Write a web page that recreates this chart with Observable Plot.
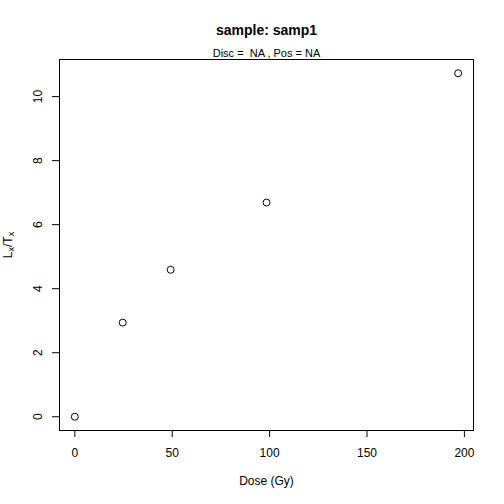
<!DOCTYPE html>
<html><head><meta charset="utf-8">
<script src="https://cdn.jsdelivr.net/npm/d3@7"></script>
<script src="https://cdn.jsdelivr.net/npm/@observablehq/plot@0.6"></script>
<style>body{margin:0;background:#fff}</style>
</head><body><div id="chart"></div>
<script>
const dose = [0, 24.6, 49.2, 98.4, 196.8];
const lxtx = [0.0, 2.94, 4.59, 6.69, 10.73];
const xTicks = [0, 50, 100, 150, 200];
const yTicks = [0, 2, 4, 6, 8, 10];
const title = "sample: samp1";
const subtitle = "Disc =  NA , Pos = NA";
const xLabel = "Dose (Gy)";
const yLabel = "Lx/Tx";

const data = dose.map((d, i) => ({dose: d, lxtx: lxtx[i]}));
const ext = (a) => { const lo = d3.min(a), hi = d3.max(a), p = (hi - lo) * 0.04; return [lo - p, hi + p]; };
const font = "Liberation Sans, Arial, Helvetica, sans-serif";

const chart = Plot.plot({
  width: 504, height: 504,
  marginLeft: 59, marginRight: 31, marginTop: 59, marginBottom: 74,
  style: {fontFamily: font, fontSize: "12px", background: "#fff", color: "#000"},
  x: {domain: ext(dose), axis: null},
  y: {domain: ext(lxtx), axis: null},
  marks: [
    Plot.frame({stroke: "#000", strokeWidth: 1}),
    Plot.axisX(xTicks, {tickSize: 7, tickFormat: () => "", label: null, stroke: "#000"}),
    Plot.axisY(yTicks, {tickSize: 7, tickFormat: () => "", label: null, stroke: "#000"}),
    Plot.text(xTicks, {x: d => d, frameAnchor: "bottom", lineAnchor: "middle", dy: 23, text: d => String(d), fontSize: 12, fill: "#000"}),
    Plot.text(yTicks, {y: d => d, frameAnchor: "left", textAnchor: "middle", lineAnchor: "middle", dx: -21, rotate: -90, text: d => String(d), fontSize: 12, fill: "#000"}),
    Plot.text([xLabel], {frameAnchor: "bottom", lineAnchor: "middle", dy: 51, text: d => d, fontSize: 12, fill: "#000"}),
    Plot.text([yLabel], {frameAnchor: "left", textAnchor: "middle", lineAnchor: "middle", dx: -51, dy: 0, rotate: -90, text: d => d, fontSize: 12, fill: "#000"}),
    Plot.text([title], {frameAnchor: "top", lineAnchor: "middle", dy: -28.5, text: d => d, fontSize: 14, fontWeight: "bold", fill: "#000"}),
    Plot.text([subtitle], {frameAnchor: "top", lineAnchor: "middle", dy: -6, text: d => d, fontSize: 11, fill: "#000"}),
    Plot.dot(data, {x: "dose", y: "lxtx", r: 3.5, stroke: "#000", strokeWidth: 1, fill: "none"})
  ]
});
// render the y label with real subscripts
d3.select(chart).selectAll("text").filter(function() { return this.textContent === yLabel; }).each(function() {
  const t = d3.select(this);
  t.text(null);
  const parts = [["L", false], ["x", true], ["/T", false], ["x", true]];
  for (const [s, sub] of parts) {
    const ts = t.append("tspan").text(s);
    if (sub) ts.attr("font-size", 9).attr("baseline-shift", "-20%");
  }
});
document.getElementById("chart").appendChild(chart);
</script>
</body></html>
